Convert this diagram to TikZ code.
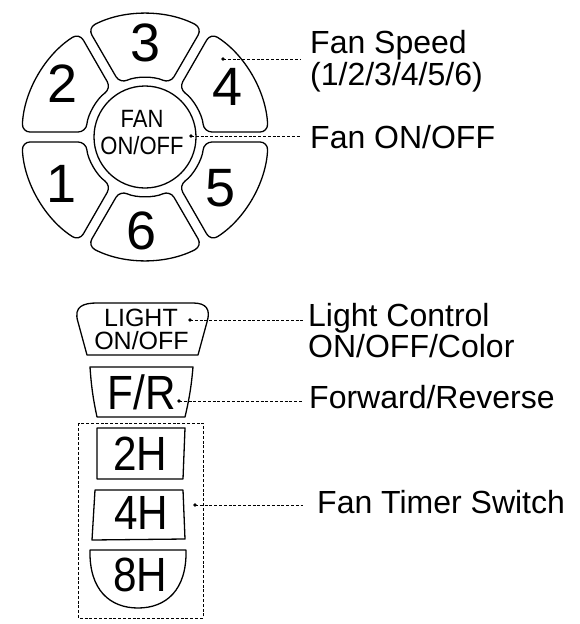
\documentclass[tikz,border=0pt]{standalone}
\usepackage{fontspec}
\setmainfont{Liberation Sans}
\newfontfamily\condfont[FakeStretch=0.88]{Liberation Sans}
\begin{document}
\begin{tikzpicture}[x=1pt,y=-1pt,
  btn/.style={draw, line width=1.3pt, line join=round},
  lbl/.style={anchor=base west, inner sep=0pt, font=\fontsize{32}{32}\selectfont},
  leader/.style={line width=0.9pt, dash pattern=on 3pt off 1.8pt},
  dotmark/.style={circle, fill, inner sep=0pt, minimum size=3.8pt},
  digit/.style={inner sep=0pt, font=\fontsize{54}{54}\selectfont},
  keytxt/.style={inner sep=0pt, font=\condfont\fontsize{48}{48}\selectfont},
  smalltxt/.style={inner sep=0pt, font=\fontsize{25}{25}\selectfont},
  fantxt/.style={inner sep=0pt, font=\condfont\fontsize{25}{25}\selectfont}]
\useasboundingbox (0,0) rectangle (579,624);

% ---- round fan keypad ----
\begin{scope}[shift={(145,137)}, y=1pt]
  \foreach \t in {90,30,-30,-90,150,210}{
    \draw[btn, rounded corners=8pt]
      ({\t-30+2.3}:123) arc[start angle={\t-30+2.3}, end angle={\t+30-2.3}, radius=123]
      -- ({\t+30-4.9}:59) arc[start angle={\t+30-4.9}, end angle={\t-30+4.9}, radius=59]
      -- cycle;
  }
  \draw[btn] (0,0) circle[radius=51];
\end{scope}
\node[digit] (k3) at (146,43) {3};
\node[digit] (k4) at (228,87) {4};
\node[digit] (k2) at (63,84) {2};
\node[digit] (k1) at (62,184) {1};
\node[digit] (k5) at (221,188) {5};
\node[digit] (k6) at (142,231) {6};
\node[fantxt] (fan) at (142,119) {FAN};
\node[fantxt] (onoff) at (142,145.5) {ON/OFF};

% ---- column of keys ----
\draw[btn] (87,355) -- (78,322) .. controls (73,306) and (84,303) .. (97,303)
  -- (193,303) .. controls (206,303) and (211,309) .. (207,322) -- (198,355) -- cycle;
\node[smalltxt] (light) at (141,317.5) {LIGHT};
\node[smalltxt] (lonoff) at (141.5,341) {ON/OFF};

\draw[btn] (90,367) -- (193,367) to[bend left=4] (185,417) -- (97,417) to[bend left=4] (90,367) -- cycle;
\node[keytxt] (fr) at (142,392) {F/R};

\draw[btn] (97,428) -- (185,428) -- (183,479) -- (97,479) -- cycle;
\node[keytxt] (h2) at (140,454) {2H};

\draw[btn] (95,490) -- (183,490) -- (185,539) -- (92,540) -- cycle;
\node[keytxt] (h4) at (141,513) {4H};

\draw[btn] (90,550) -- (186,550) .. controls (187,590) and (166,608) .. (138,608)
  .. controls (110,608) and (89,590) .. (90,550) -- cycle;
\node[keytxt] (h8) at (140,575) {8H};

\draw[leader] (78,423) rectangle (203,618);

% ---- dots and leaders ----
\node[dotmark] (d1) at (223,59) {};
\node[dotmark] (d2) at (191,136) {};
\node[dotmark] (d3) at (190,320) {};
\node[dotmark] (d4) at (179,401) {};
\node[dotmark] (d5) at (195,505) {};
\coordinate (e1) at (301,59);
\coordinate (e2) at (301,136);
\coordinate (e3) at (303,320);
\coordinate (e4) at (303,401);
\coordinate (e5) at (303,505);
\foreach \i in {1,...,5}{ \draw[leader] (d\i.center) -- (e\i); }

% ---- labels ----
\node[lbl] (l1a) at (310,53) {Fan Speed};
\node[lbl] (l1b) at (310,85) {(1/2/3/4/5/6)};
\node[lbl] (l2) at (310,148) {Fan ON/OFF};
\node[lbl] (l3a) at (308,326) {Light Control};
\node[lbl] (l3b) at (308,357) {ON/OFF/Color};
\node[lbl] (l4) at (309,408) {Forward/Reverse};
\node[lbl] (l5) at (317,513) {Fan Timer Switch};
\end{tikzpicture}
\end{document}
